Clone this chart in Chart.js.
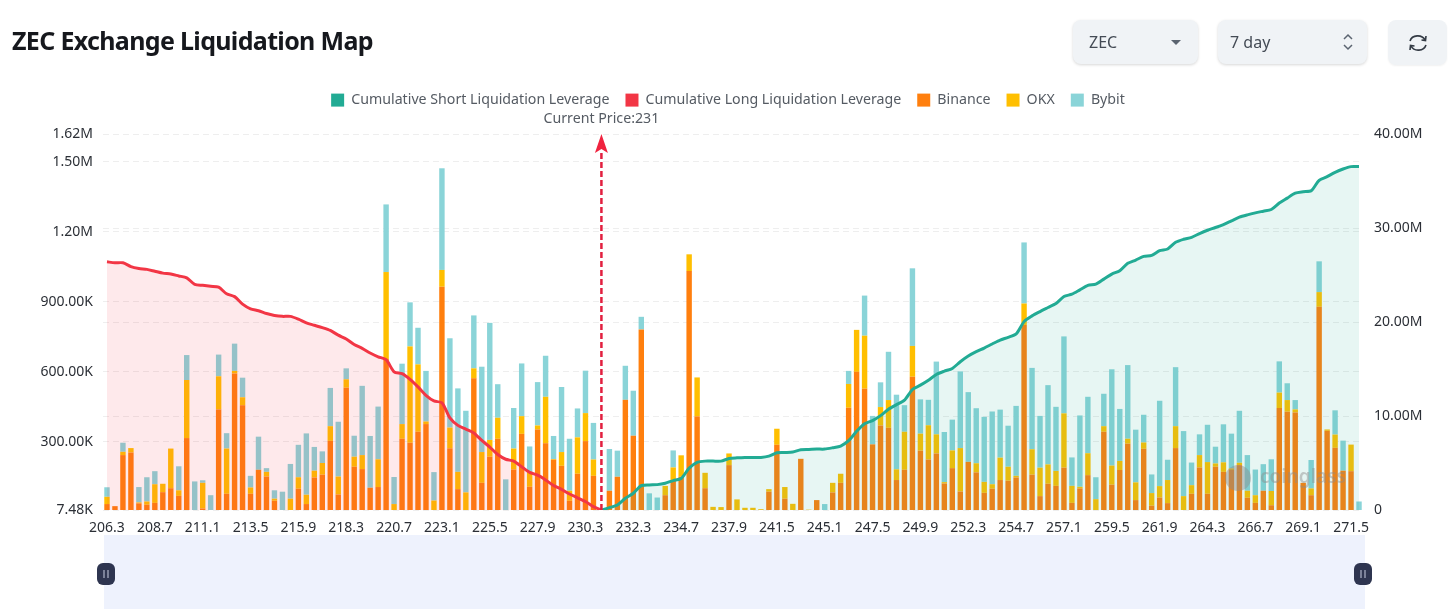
<!DOCTYPE html>
<html>
<head>
<meta charset="utf-8">
<title>ZEC Exchange Liquidation Map</title>
<script src="https://cdn.jsdelivr.net/npm/chart.js@4"></script>
<style>
  html, body { margin: 0; padding: 0; background: #fff; overflow: hidden; }
  body { width: 1456px; height: 615px; position: relative; font-family: "Noto Sans", sans-serif; }
  #chart { position: absolute; left: 0; top: 0; }
  h1 { position: absolute; left: 12px; top: 22px; margin: 0; font: 700 25px/36px "Noto Sans", sans-serif; letter-spacing: -0.66px; color: #16181d; }
  .box { position: absolute; top: 20px; height: 44px; background: #f0f3f6; border-radius: 8px; box-shadow: 0 1px 3px rgba(0,0,0,.16); font-size: 16px; line-height: 45px; color: #444b55; }
  .box span { position: absolute; left: 16px; }
  .box svg { position: absolute; }
  #slider { position: absolute; left: 104px; top: 535px; width: 1261px; height: 74px; background: #eef2fd; }
  .handle { position: absolute; top: 563px; width: 18px; height: 22px; background: #2e3550; border-radius: 6px; }
  .handle svg { position: absolute; left: 6px; top: 7px; }
</style>
</head>
<body>
<canvas id="chart" width="1456" height="615"></canvas>
<h1>ZEC Exchange Liquidation Map</h1>
<div class="box" style="left:1073px;width:125px"><span>ZEC</span>
  <svg style="left:97px;top:20px" width="12" height="6"><path d="M1 0 L11 0 L6 5 Z" fill="#5b6470"/></svg></div>
<div class="box" style="left:1218px;width:149px"><span style="left:12px">7 day</span>
  <svg style="left:124px;top:12px" width="12" height="20"><path d="M2 7 L6 3 L10 7 M2 13 L6 17 L10 13" fill="none" stroke="#5b6470" stroke-width="1.5"/></svg></div>
<div class="box" style="left:1388px;width:59px;height:45px;box-shadow:0 1px 2px rgba(0,0,0,.06)">
  <svg style="left:20px;top:13px" width="20" height="20" viewBox="0 0 20 20"><path d="M2 8 A8 7 0 0 1 17 7 M18 12 A8 7 0 0 1 3 13 M13.5 7 L17.5 7.5 L18 3 M6.5 13 L2.5 12.5 L2 17" fill="none" stroke="#333a44" stroke-width="1.6"/></svg></div>
<div id="slider"></div>
<div class="handle" style="left:97px"><svg width="6" height="8"><path d="M1 0 V8 M5 0 V8" stroke="#aeb4c8" stroke-width="1.2"/></svg></div>
<div class="handle" style="left:1354px"><svg width="6" height="8"><path d="M1 0 V8 M5 0 V8" stroke="#aeb4c8" stroke-width="1.2"/></svg></div>

<script>
// prices of each bar
const categories = [206.3,206.7,207.1,207.5,207.9,208.3,208.7,209.1,209.5,209.9,210.3,210.7,211.1,211.5,211.9,212.3,212.7,213.1,213.5,213.9,214.3,214.7,215.1,215.5,215.9,216.3,216.7,217.1,217.5,217.9,218.3,218.7,219.1,219.5,219.9,220.3,220.7,221.1,221.5,221.9,222.3,222.7,223.1,223.5,223.9,224.3,224.7,225.1,225.5,225.9,226.3,226.7,227.1,227.5,227.9,228.3,228.7,229.1,229.5,229.9,230.3,230.7,231,231.1,231.5,231.9,232.3,232.7,233.1,233.5,233.9,234.3,234.7,235.1,235.5,235.9,236.7,237.1,237.9,238.3,238.7,239.5,240.3,241.1,241.5,241.9,242.3,243.1,243.9,244.7,245.1,245.5,245.9,246.3,246.7,247.1,247.5,247.9,248.3,248.7,249.1,249.5,249.9,250.3,250.7,251.1,251.5,251.9,252.3,252.7,253.1,253.5,253.9,254.3,254.7,255.1,255.5,255.9,256.3,256.7,257.1,257.5,257.9,258.3,258.7,259.1,259.5,259.9,260.3,260.7,261.1,261.5,261.9,262.3,262.7,263.1,263.5,263.9,264.3,264.7,265.1,265.5,265.9,266.3,266.7,267.1,267.5,267.9,268.3,268.7,269.1,269.5,269.9,270.3,270.7,271.1,271.5,271.9];

// liquidation per exchange, in thousands
const binanceK = [33,24,243,254,36,30,38,84,101,68,316,0,14,0,439,77,593,457,77,180,151,47,0,0,99,33,147,159,304,74,532,193,183,103,106,655,0,313,296,343,376,0,965,272,97,0,572,124,236,313,0,181,334,107,353,294,223,197,47,163,303,154,0,90,150,480,326,782,0,0,71,136,150,1032,409,101,0,0,200,0,0,0,0,86,287,56,0,227,0,50,0,83,124,446,600,528,289,370,360,136,180,579,262,224,250,121,187,87,214,169,81,99,136,133,147,801,159,67,120,111,189,38,100,157,0,343,116,179,292,50,270,26,61,37,273,0,77,190,77,193,171,179,200,60,38,90,28,445,429,426,124,71,879,347,274,176,174,0];
const okxK = [31,0,14,19,4,14,80,36,170,24,249,0,110,0,142,194,11,34,27,0,20,9,0,56,49,40,29,50,63,77,36,43,60,0,119,373,33,63,413,289,11,48,72,89,74,83,43,132,72,90,0,90,76,64,17,199,3,59,43,156,120,70,0,0,0,0,0,0,0,0,40,54,92,72,167,66,21,20,50,53,17,17,11,11,69,50,34,0,9,0,0,41,39,102,180,227,0,79,119,46,163,132,73,147,82,6,76,186,0,39,47,19,96,60,7,92,109,122,83,64,233,73,7,94,54,24,82,39,21,76,27,54,49,99,94,67,37,53,136,14,41,7,10,30,33,0,61,66,50,13,0,29,63,6,57,0,114,0];
const bybitK = [41,0,39,0,66,104,56,0,0,103,107,130,11,71,93,66,117,84,50,142,16,36,86,149,139,263,102,50,164,235,47,90,297,222,226,290,116,259,189,157,217,122,436,383,358,350,227,366,502,144,139,174,226,109,186,176,99,279,223,124,182,157,0,179,112,146,193,54,79,61,0,73,0,0,0,0,0,0,0,0,0,0,0,0,0,0,0,0,0,0,33,0,0,56,0,172,122,106,207,320,114,333,147,109,312,215,132,329,299,236,279,312,206,176,300,262,349,222,340,275,330,122,306,242,94,139,413,223,316,226,119,80,366,87,253,279,97,89,160,72,163,149,223,153,110,114,136,134,72,40,0,122,132,0,104,129,0,44];

// cumulative leverage, in millions (long left of current price, short right of it)
const longM = [26.4,26.3,26.3,25.9,25.7,25.6,25.4,25.2,25.1,24.9,24.7,24.0,23.9,23.8,23.7,23.0,22.7,21.9,21.4,21.2,20.9,20.7,20.6,20.6,20.3,19.9,19.65,19.4,19.1,18.6,18.2,17.6,17.2,16.7,16.3,16.0,14.7,14.5,13.9,13.1,12.2,11.6,11.4,9.8,9.0,8.6,8.2,7.4,6.7,5.9,5.4,5.2,4.6,4.0,3.7,3.2,2.6,2.2,1.7,1.3,0.9,0.36,0];
const shortM = [0,0.25,0.53,1.25,1.78,2.6,2.67,2.7,2.85,3.13,3.35,4.45,5.06,5.2,5.2,5.2,5.48,5.55,5.59,5.59,5.59,5.73,6.09,6.12,6.16,6.41,6.44,6.48,6.48,6.62,6.8,7.37,8.37,9.18,9.51,10.04,10.72,11.21,11.68,12.82,13.28,13.81,14.42,14.77,15.06,15.77,16.38,16.84,17.23,17.66,18.08,18.37,18.73,20.04,20.65,21.11,21.54,21.97,22.71,22.96,23.42,23.89,24.03,24.56,25.1,25.45,26.24,26.59,26.98,27.09,27.59,27.77,28.48,28.8,29.01,29.41,29.76,30.05,30.37,30.76,31.15,31.4,31.61,31.79,31.97,32.65,33.18,33.71,33.86,33.96,35.07,35.46,35.92,36.28,36.53,36.53];

// tick labels
const leftTickValues = [7480,300000,600000,900000,1200000,1500000,1620000];
const leftTickLabels = ['7.48K','300.00K','600.00K','900.00K','1.20M','1.50M','1.62M'];
const rightTickValues = [0,10000000,20000000,30000000,40000000];
const rightTickLabels = ['0','10.00M','20.00M','30.00M','40.00M'];
const currentPrice = 231;

const fontName = '"Noto Sans", sans-serif';
const currentIndex = categories.indexOf(currentPrice);

// the two cumulative lines meet at the current price
const longLine = categories.map((p, i) => i < longM.length ? longM[i] * 1e6 : null);
const shortLine = categories.map((p, i) => i >= currentIndex ? shortM[i - currentIndex] * 1e6 : null);

// arrow, price text and watermark
const currentPricePlugin = {
    id: 'currentPrice',
    afterDatasetsDraw(chart) {
        const ctx = chart.ctx;
        const x = chart.scales.x.getPixelForValue(currentIndex);
        const top = chart.scales.y.top;
        const bottom = chart.scales.y.bottom;

        ctx.save();
        ctx.fillStyle = 'rgba(140,140,140,0.45)';
        ctx.beginPath();
        ctx.arc(1238, 478, 13, 0, Math.PI * 2);
        ctx.fill();
        ctx.font = '600 19px ' + fontName;
        ctx.textAlign = 'left';
        ctx.textBaseline = 'middle';
        ctx.fillText('coinglass', 1260, 478);

        ctx.strokeStyle = '#e21f3f';
        ctx.lineWidth = 2.5;
        ctx.setLineDash([6, 3]);
        ctx.beginPath();
        ctx.moveTo(x, bottom);
        ctx.lineTo(x, top + 16);
        ctx.stroke();
        ctx.setLineDash([]);

        ctx.fillStyle = '#f0233f';
        ctx.beginPath();
        ctx.moveTo(x, top);
        ctx.lineTo(x + 6.5, top + 19);
        ctx.lineTo(x, top + 15);
        ctx.lineTo(x - 6.5, top + 19);
        ctx.closePath();
        ctx.fill();

        ctx.fillStyle = '#555b63';
        ctx.font = '14.2px ' + fontName;
        ctx.textAlign = 'center';
        ctx.fillText('Current Price:' + currentPrice, x, 119);
        ctx.restore();
    }
};

// leaves room under the legend for the price text
const legendRoomPlugin = {
    id: 'legendRoom',
    beforeLayout(chart) {
        const legend = chart.legend;
        if (!legend.fitPatched) {
            const fit = legend.fit;
            legend.fit = function () {
                fit.call(this);
                this.height = 57;
            };
            legend.fitPatched = true;
        }
    }
};

function barSet(label, values, color) {
    return {
        type: 'bar',
        label: label,
        data: values.map(v => v * 1000),
        backgroundColor: color,
        yAxisID: 'y',
        stack: 'exchanges',
        order: 2,
        barPercentage: 0.68,
        categoryPercentage: 1
    };
}

function lineSet(label, values, color, area) {
    return {
        type: 'line',
        label: label,
        data: values,
        borderColor: color,
        backgroundColor: color,
        yAxisID: 'y2',
        order: 1,
        borderWidth: 3,
        pointRadius: 0,
        tension: 0.25,
        fill: { target: 'origin', above: area }
    };
}

new Chart(document.getElementById('chart'), {
    type: 'bar',
    data: {
        labels: categories,
        datasets: [
            lineSet('Cumulative Short Liquidation Leverage', shortLine, '#22ab94', 'rgba(34,171,148,0.11)'),
            lineSet('Cumulative Long Liquidation Leverage', longLine, '#f23645', 'rgba(242,54,69,0.11)'),
            barSet('Binance', binanceK, '#ff7f0e'),
            barSet('OKX', okxK, '#ffbf00'),
            barSet('Bybit', bybitK, '#8ad4d8')
        ]
    },
    options: {
        responsive: false,
        animation: false,
        devicePixelRatio: 1,
        layout: { padding: { top: 77, left: 0, right: 0, bottom: 0 } },
        plugins: {
            tooltip: { enabled: false },
            legend: {
                position: 'top',
                labels: {
                    boxWidth: 13,
                    boxHeight: 13,
                    padding: 16,
                    color: '#555b63',
                    font: { family: fontName, size: 14.2 },
                    generateLabels(chart) {
                        return chart.data.datasets.map((d, i) => ({
                            text: d.label,
                            fillStyle: d.backgroundColor,
                            strokeStyle: d.backgroundColor,
                            lineWidth: 0,
                            fontColor: '#555b63',
                            datasetIndex: i
                        }));
                    }
                }
            }
        },
        scales: {
            x: {
                stacked: true,
                grid: { display: false },
                border: { display: false },
                afterFit(scale) { scale.height = 105; },
                ticks: {
                    autoSkip: false,
                    maxRotation: 0,
                    padding: 2,
                    color: '#2b2f36',
                    font: { family: fontName, size: 14 },
                    callback(value, index) {
                        return index % 6 === 0 ? categories[index].toFixed(1) : null;
                    }
                }
            },
            y: {
                stacked: true,
                min: 7480,
                max: 1620000,
                position: 'left',
                afterBuildTicks(scale) { scale.ticks = leftTickValues.map(v => ({ value: v })); },
                afterFit(scale) { scale.width = 103; },
                grid: { color: '#eeeeee', drawTicks: false },
                border: { display: false, dash: [6, 4] },
                ticks: {
                    padding: 10,
                    color: '#2b2f36',
                    font: { family: fontName, size: 14 },
                    callback(value) { return leftTickLabels[leftTickValues.indexOf(value)]; }
                }
            },
            y2: {
                min: 0,
                max: 40000000,
                position: 'right',
                afterBuildTicks(scale) { scale.ticks = rightTickValues.map(v => ({ value: v })); },
                afterFit(scale) { scale.width = 93; },
                grid: { color: '#eeeeee', drawTicks: false },
                border: { display: false, dash: [6, 4] },
                ticks: {
                    padding: 11,
                    color: '#2b2f36',
                    font: { family: fontName, size: 14 },
                    callback(value) { return rightTickLabels[rightTickValues.indexOf(value)]; }
                }
            }
        }
    },
    plugins: [legendRoomPlugin, currentPricePlugin]
});
</script>
</body>
</html>
